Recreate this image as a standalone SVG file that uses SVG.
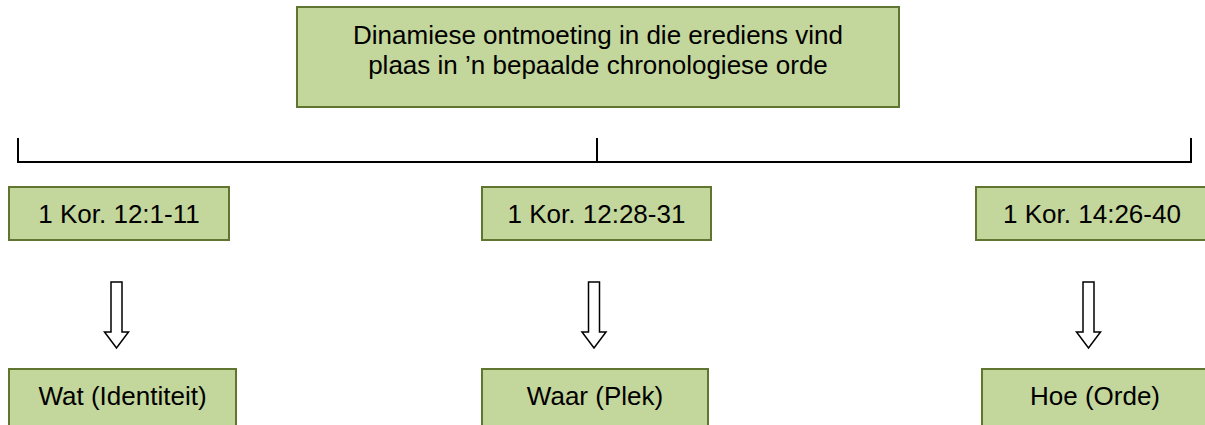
<svg xmlns="http://www.w3.org/2000/svg" width="1205" height="425" viewBox="0 0 1205 425">
<style>
.box{fill:#c3d69b;stroke:#5f7530;stroke-width:2}
.t{font-family:"Liberation Sans",Arial,sans-serif;font-size:26px;fill:#000;text-anchor:middle}
.ln{stroke:#000;stroke-width:2;fill:none}
.ar{fill:#fff;stroke:#000;stroke-width:1.5;stroke-linejoin:miter}
</style>
<rect width="1205" height="425" fill="#fff"/>
<g id="connectors">
<path class="ln" d="M18,138 V162 H1191 V138 M597,138 V162"/>
<path class="ar" d="M111,282 H122 V332 H128.5 L116.5,348 L104.5,332 H111 Z"/>
<path class="ar" d="M588.5,282 H599.5 V332 H606 L594,348 L582,332 H588.5 Z"/>
<path class="ar" d="M1083,282 H1094 V332 H1100.5 L1088.5,348 L1076.5,332 H1083 Z"/>
</g>
<g id="top">
<rect class="box" x="297" y="7" width="602" height="100"/>
<text class="t" x="598" y="44">Dinamiese ontmoeting in die erediens vind</text>
<text class="t" x="598" y="74">plaas in ’n bepaalde chronologiese orde</text>
</g>
<g id="kor1">
<rect class="box" x="9" y="187" width="220" height="53"/>
<text class="t" x="119" y="223">1 Kor. 12:1-11</text>
</g>
<g id="kor2">
<rect class="box" x="482" y="187" width="229" height="53"/>
<text class="t" x="596.5" y="223">1 Kor. 12:28-31</text>
</g>
<g id="kor3">
<rect class="box" x="976" y="187" width="234" height="53"/>
<text class="t" x="1092" y="223">1 Kor. 14:26-40</text>
</g>
<g id="wat">
<rect class="box" x="9" y="369" width="227" height="70"/>
<text class="t" x="122.5" y="405">Wat (Identiteit)</text>
</g>
<g id="waar">
<rect class="box" x="482" y="369" width="226" height="70"/>
<text class="t" x="595" y="405">Waar (Plek)</text>
</g>
<g id="hoe">
<rect class="box" x="982" y="369" width="228" height="70"/>
<text class="t" x="1095" y="405">Hoe (Orde)</text>
</g>
</svg>
